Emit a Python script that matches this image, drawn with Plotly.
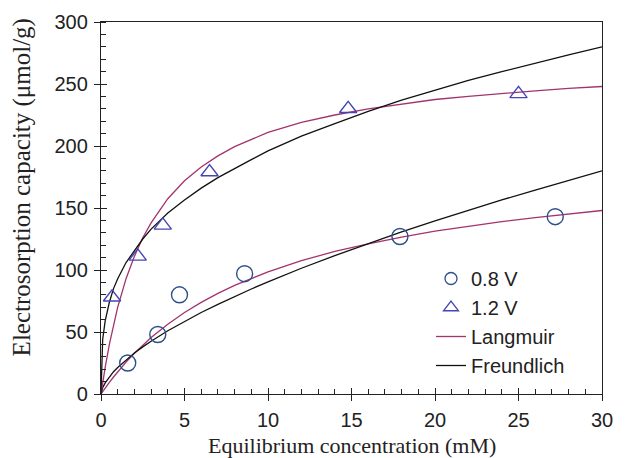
import plotly.graph_objects as go

# ---- data ----
c_08 = [1.6, 3.4, 4.7, 8.6, 17.9, 27.2]
q_08 = [25, 48, 80, 97, 127, 143]
c_12 = [0.66, 2.2, 3.7, 6.5, 14.8, 25.0]
q_12 = [78, 111, 136, 179, 230, 242]

x_fit = [0, 0.1, 0.25, 0.5, 0.75, 1, 1.5, 2, 2.5, 3, 4, 5, 6, 7, 8, 9, 10,
         12, 14, 16, 18, 20, 22, 24, 26, 28, 30]
lang_12 = [0, 9, 21.5, 40, 56, 70, 93, 111, 126, 138, 157.5, 172, 183, 192, 199.5,
           205.5, 211, 219, 225, 230, 234, 237.5, 240, 242.5, 244.5, 246.5, 248]
freu_12 = [0, 44, 59, 74, 85, 93, 106, 116, 125, 133, 146, 156.5, 166, 174.5, 182,
           189, 196, 208, 218, 228, 237, 245, 253, 260, 267, 273.5, 280]
lang_08 = [0, 2, 4.8, 9.4, 13.7, 17.9, 25.7, 32.8, 39.4, 45.5, 56.3, 65.7, 73.9, 81.1,
           87.6, 93.3, 98.5, 107.5, 115, 121, 126.5, 131.3, 135.4, 139, 142.3, 145.2, 148]
freu_08 = [0, 5, 9, 14, 18, 21.4, 27.6, 33, 38, 42.6, 51, 58.6, 65.7, 72.3, 78.7,
           84.7, 90.5, 101.4, 111.6, 121.4, 130.7, 139.6, 148.2, 156.5, 164.5, 172.3, 180]

x_ticks = [0, 5, 10, 15, 20, 25, 30]
y_ticks = [0, 50, 100, 150, 200, 250, 300]

PINK = "#a3336f"
BLACK = "#111111"
CIRC = "#2c4f8a"
TRI = "#4545b5"

fig = go.Figure()

fig.add_trace(go.Scatter(x=x_fit, y=lang_08, mode="lines", line=dict(color=PINK, width=1.3),
                         showlegend=False, hoverinfo="skip"))
fig.add_trace(go.Scatter(x=x_fit, y=freu_08, mode="lines", line=dict(color=BLACK, width=1.3),
                         showlegend=False, hoverinfo="skip"))
fig.add_trace(go.Scatter(x=x_fit, y=lang_12, mode="lines", showlegend=False, hoverinfo="skip",
                         line=dict(color=PINK, width=1.3)))
fig.add_trace(go.Scatter(x=x_fit, y=freu_12, mode="lines", showlegend=False, hoverinfo="skip",
                         line=dict(color=BLACK, width=1.3)))
fig.add_trace(go.Scatter(x=c_08, y=q_08, mode="markers", showlegend=False,
                         marker=dict(symbol="circle-open", size=16, color=CIRC,
                                     line=dict(width=1.4, color=CIRC))))
fig.add_trace(go.Scatter(x=c_12, y=q_12, mode="markers", showlegend=False,
                         marker=dict(symbol="triangle-up-open", size=15, color=TRI,
                                     line=dict(width=1.4, color=TRI))))

# legend entries (smaller symbols, as in the reference legend)
fig.add_trace(go.Scatter(x=[None], y=[None], mode="markers", name="0.8 V", legendgroup="a",
                         marker=dict(symbol="circle-open", size=12, color=CIRC,
                                     line=dict(width=1.3, color=CIRC))))
fig.add_trace(go.Scatter(x=[None], y=[None], mode="markers", name="1.2 V", legendgroup="b",
                         marker=dict(symbol="triangle-up-open", size=13, color=TRI,
                                     line=dict(width=1.3, color=TRI))))
fig.add_trace(go.Scatter(x=[None], y=[None], mode="lines", name="Langmuir", legendgroup="c",
                         line=dict(color=PINK, width=1.3)))
fig.add_trace(go.Scatter(x=[None], y=[None], mode="lines", name="Freundlich", legendgroup="d",
                         line=dict(color=BLACK, width=1.3)))

# helper trace for the inner half of the major ticks
fig.add_trace(go.Scatter(x=[None], y=[None], xaxis="x2", yaxis="y2", showlegend=False,
                         hoverinfo="skip"))

tickfont = dict(family="Liberation Sans, Arial, sans-serif", size=20, color="#222")
axis_common = dict(showline=True, linecolor="#222", linewidth=1.3, mirror=True,
                   showgrid=False, zeroline=False, ticks="outside", ticklen=6,
                   tickwidth=1.2, tickcolor="#222", tickfont=tickfont, automargin=False)
serif = "Liberation Serif, Times New Roman, serif"

fig.update_layout(
    width=632, height=458,
    margin=dict(l=101, r=30, t=22, b=64),
    paper_bgcolor="white", plot_bgcolor="white",
    xaxis=dict(range=[0, 30], tickvals=x_ticks, ticklabelstandoff=2,
               minor=dict(dtick=1, ticks="inside", ticklen=5, tickcolor="#222", tickwidth=1),
               **axis_common),
    yaxis=dict(range=[0, 300], tickvals=y_ticks, ticklabelstandoff=2,
               minor=dict(dtick=10, ticks="inside", ticklen=5, tickcolor="#222", tickwidth=1),
               **axis_common),
    xaxis2=dict(range=[0, 30], overlaying="x", anchor="y2", tickvals=x_ticks, ticks="inside",
                ticklen=6, tickwidth=1.2, tickcolor="#222", showticklabels=False,
                showline=False, showgrid=False, zeroline=False, automargin=False),
    yaxis2=dict(range=[0, 300], overlaying="y", anchor="x2", tickvals=y_ticks, ticks="inside",
                ticklen=6, tickwidth=1.2, tickcolor="#222", showticklabels=False,
                showline=False, showgrid=False, zeroline=False, automargin=False),
    legend=dict(font=dict(family="Liberation Sans, Arial, sans-serif", size=20, color="#222"),
                tracegroupgap=0, bgcolor="rgba(0,0,0,0)",
                x=(431 - 101) / 501, y=(394 - 259) / 372, xanchor="left", yanchor="top"),
    annotations=[
        dict(text="Electrosorption capacity (μmol/g)", textangle=-90,
             xref="paper", yref="paper", x=-0.158, y=0.555, showarrow=False,
             xanchor="center", yanchor="middle",
             font=dict(family=serif, size=25, color="#222")),
        dict(text="Equilibrium concentration (mM)",
             xref="paper", yref="paper", x=0.5, y=-0.1385, showarrow=False,
             xanchor="center", yanchor="middle",
             font=dict(family=serif, size=22, color="#222")),
    ],
)

fig.write_html("out.html")
